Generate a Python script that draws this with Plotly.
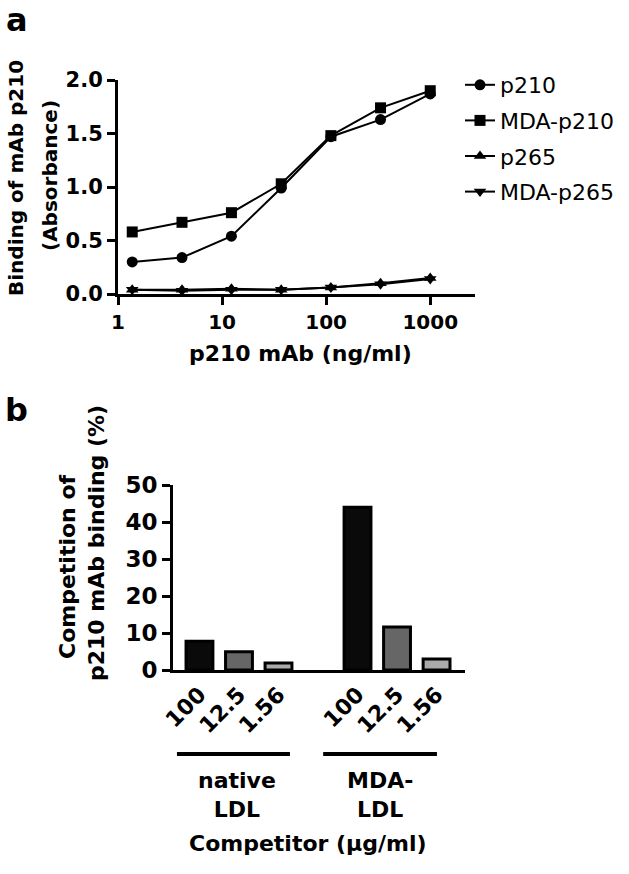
import plotly.graph_objects as go

# ---------- Panel a data ----------
conc_ng = [1.37, 4.12, 12.3, 37.0, 111.0, 333.0, 1000.0]
p210 = [0.30, 0.34, 0.54, 0.99, 1.47, 1.63, 1.87]
mda_p210 = [0.58, 0.67, 0.76, 1.03, 1.48, 1.74, 1.90]
p265 = [0.04, 0.04, 0.05, 0.04, 0.06, 0.10, 0.15]
mda_p265 = [0.04, 0.03, 0.04, 0.04, 0.06, 0.09, 0.14]
series_names = ["p210", "MDA-p210", "p265", "MDA-p265"]
series_symbols = ["circle", "square", "triangle-up", "triangle-down"]

# ---------- Panel b data ----------
competitor_conc = ["100", "12.5", "1.56"]
native_ldl = [7.8, 4.9, 1.9]
mda_ldl = [44.0, 11.6, 3.0]
bar_pos_native = [0, 1, 2]
bar_pos_mda = [4, 5, 6]
bar_fill = ["#0a0a0a", "#666666", "#aaaaaa"]

FONT = "DejaVu Sans"
W, H = 629, 874

def px_x(p):
    return p / W

def px_y(p):
    return 1 - p / H

fig = go.Figure()

for name, sym, vals in zip(series_names, series_symbols, [p210, mda_p210, p265, mda_p265]):
    fig.add_trace(go.Scatter(
        x=conc_ng, y=vals, name=name, mode="lines+markers",
        line=dict(color="black", width=2),
        marker=dict(symbol=sym, size=11, color="black"),
        cliponaxis=False, xaxis="x", yaxis="y", legendgroup=name,
    ))

for i, lab in enumerate(competitor_conc):
    fig.add_trace(go.Bar(
        x=[bar_pos_native[i], bar_pos_mda[i]], y=[native_ldl[i], mda_ldl[i]],
        width=0.68, marker=dict(color=bar_fill[i], line=dict(color="black", width=3)),
        showlegend=False, xaxis="x2", yaxis="y2", name=lab,
    ))

axis_common = dict(showline=True, linecolor="black", linewidth=3, ticks="outside",
                   ticklen=8, tickwidth=3, tickcolor="black", showgrid=False, zeroline=False,
                   automargin=False)

fig.update_layout(
    template="none",
    width=W, height=H, margin=dict(l=0, r=0, t=0, b=0, pad=0), autosize=False,
    plot_bgcolor="white", paper_bgcolor="white",
    font=dict(family=FONT, color="black"),
    barmode="overlay",
    xaxis=dict(type="log", range=[0, 3.43], domain=[px_x(118), px_x(475)],
               tickvals=[1, 10, 100, 1000], ticktext=["<b>1</b>", "<b>10</b>", "<b>100</b>", "<b>1000</b>"],
               tickfont=dict(size=20, family=FONT), anchor="y", **axis_common),
    yaxis=dict(range=[0, 2.0], domain=[px_y(294), px_y(80)],
               tickvals=[0, 0.5, 1.0, 1.5, 2.0],
               ticktext=["<b>0.0</b>", "<b>0.5</b>", "<b>1.0</b>", "<b>1.5</b>", "<b>2.0</b>"],
               tickfont=dict(size=21, family=FONT), anchor="x", **axis_common),
    xaxis2=dict(range=[-0.67, 6.72], domain=[px_x(173), px_x(465)],
                tickvals=bar_pos_native + bar_pos_mda,
                ticktext=["<b>%s</b>" % c for c in competitor_conc] * 2,
                tickangle=-45, tickfont=dict(size=22, family=FONT), anchor="y2",
                showline=True, linecolor="black", linewidth=3, ticks="", showgrid=False,
                zeroline=False, automargin=False),
    yaxis2=dict(range=[0, 50], domain=[px_y(670), px_y(485)],
                tickvals=[0, 10, 20, 30, 40, 50],
                ticktext=["<b>%d</b>" % v for v in [0, 10, 20, 30, 40, 50]],
                tickfont=dict(size=23, family=FONT), anchor="x2", **axis_common),
    legend=dict(x=px_x(460), y=px_y(64), xanchor="left", yanchor="top",
                font=dict(size=22, family=FONT), tracegroupgap=4, itemwidth=30,
                bgcolor="rgba(0,0,0,0)", borderwidth=0),
)

def ann(text, x, y, size, angle=0, bold=True):
    fig.add_annotation(text=("<b>%s</b>" % text) if bold else text, x=px_x(x), y=px_y(y),
                       xref="paper", yref="paper", showarrow=False, textangle=angle,
                       font=dict(size=size, family=FONT, color="black"),
                       xanchor="center", yanchor="middle")

ann("a", 17, 20, 32)
ann("b", 16, 410, 32)
ann("Binding of mAb p210", 16, 178, 20, -90)
ann("(Absorbance)", 50, 176, 20, -90)
ann("p210 mAb (ng/ml)", 300, 354, 22)
ann("Competition of", 67, 567, 22, -90)
ann("p210 mAb binding (%)", 96, 543, 22, -90)
ann("native<br>LDL", 237, 795, 22)
ann("MDA-<br>LDL", 380, 795, 22)
ann("Competitor (µg/ml)", 308, 843, 22)

for x0, x1 in [(-0.57, 2.29), (3.13, 6.01)]:
    fig.add_shape(type="line", xref="x2", yref="paper", x0=x0, x1=x1,
                  y0=px_y(754), y1=px_y(754), line=dict(color="black", width=4))

fig.write_html("out.html", config={"displayModeBar": False, "staticPlot": True},
               post_script="document.body.style.margin='0px';document.body.style.padding='0px';")
